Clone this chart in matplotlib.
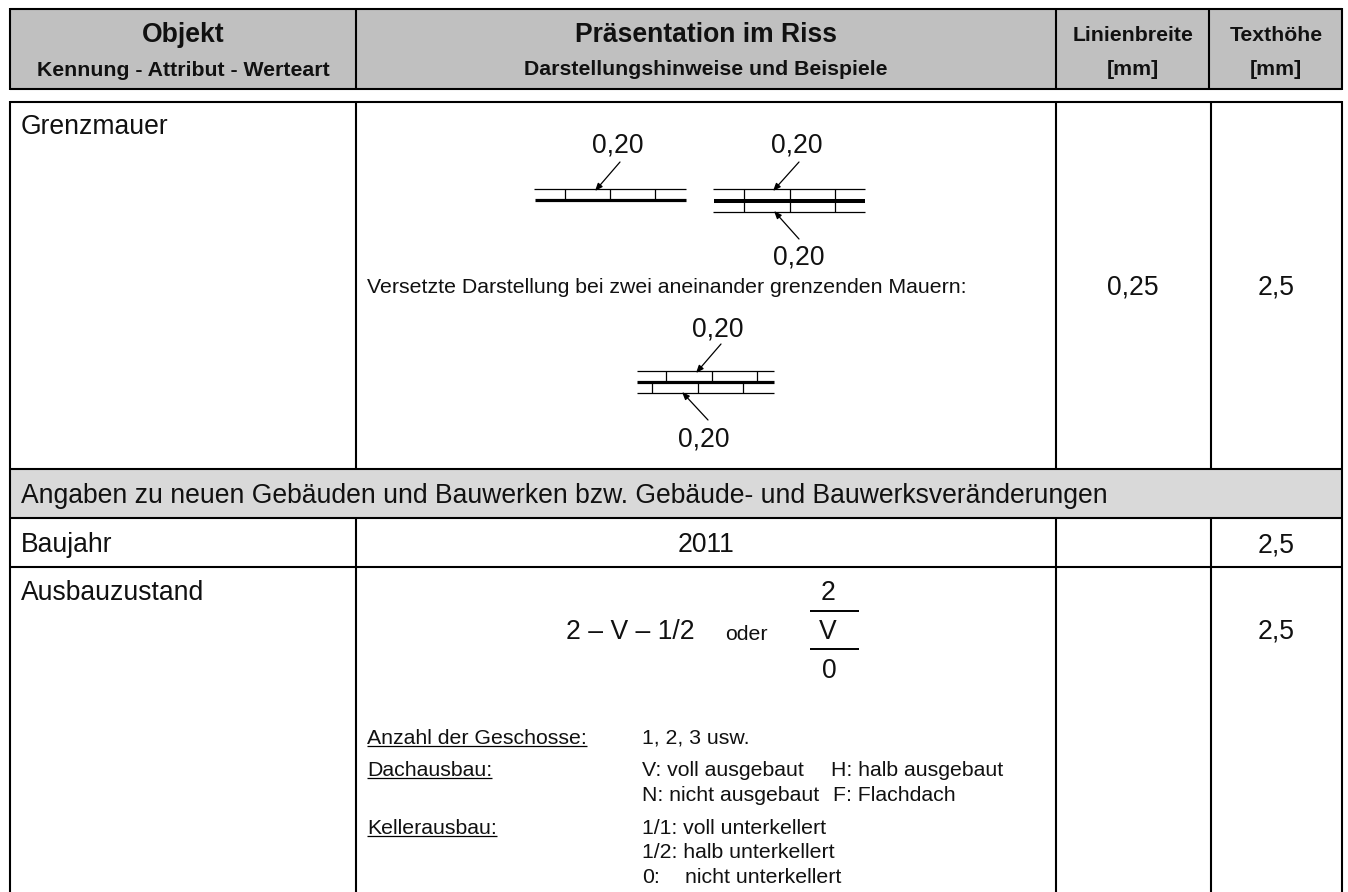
import matplotlib
matplotlib.use("Agg")
import matplotlib.pyplot as plt
from matplotlib.patches import Rectangle

plt.rcParams['font.family'] = ['Liberation Sans', 'DejaVu Sans']

W, H = 1348, 892
left_x, right_x = 10, 1342
header_cols = [356, 1056, 1209]
body_cols = [356, 1056, 1211]
header_top, header_bot = 9, 89
body_top = 102
row_edges = [102, 469, 518, 567]

header_main = ["Objekt", "Präsentation im Riss"]
header_sub = ["Kennung - Attribut - Werteart", "Darstellungshinweise und Beispiele"]
header_small = [["Linienbreite", "[mm]"], ["Texthöhe", "[mm]"]]
section_title = "Angaben zu neuen Gebäuden und Bauwerken bzw. Gebäude- und Bauwerksveränderungen"
row_names = ["Grenzmauer", "Baujahr", "Ausbauzustand"]
line_width_value = "0,25"
text_height_value = "2,5"
dim_label = "0,20"
offset_note = "Versetzte Darstellung bei zwei aneinander grenzenden Mauern:"
year = "2011"
formula = "2 – V – 1/2"
oder = "oder"
fraction = ["2", "V", "0"]
legend_left = ["Anzahl der Geschosse:", "Dachausbau:", "Kellerausbau:"]
legend_left_y = [744, 776, 834]
legend_a = ["1, 2, 3 usw.", "V: voll ausgebaut", "N: nicht ausgebaut", "1/1: voll unterkellert",
            "1/2: halb unterkellert", "0:"]
legend_a_y = [744, 776, 801, 834, 858, 883]
legend_b = ["H: halb ausgebaut", "F: Flachdach", "nicht unterkellert"]
legend_b_x = [831, 833, 685]
legend_b_y = [776, 801, 883]

fig = plt.figure(figsize=(W / 100, H / 100), dpi=100)
ax = fig.add_axes([0, 0, 1, 1])
ax.set_xlim(0, W)
ax.set_ylim(H, 0)
ax.axis('off')

GREY = '#c0c0c0'
BLK = '#000000'
LW = 1.5
BIG = 19.1
MID = 15.3
HEAD = 19.1
SUB = 15.3


def line(x0, y0, x1, y1, lw=LW, color=BLK):
    ax.plot([x0, x1], [y0, y1], color=color, lw=lw, solid_capstyle='butt', zorder=3)


def txt(x, y, s, size=BIG, ha='center', weight='normal'):
    return ax.text(x, y, s, fontsize=size, ha=ha, va='baseline', weight=weight, color='#111111', zorder=4)


# header
ax.add_patch(Rectangle((left_x, header_top), right_x - left_x, header_bot - header_top,
                       fc=GREY, ec='none', zorder=1))
line(left_x, header_top, right_x, header_top)
line(left_x, header_bot, right_x, header_bot)
for x in [left_x, *header_cols, right_x]:
    line(x, header_top - 1, x, header_bot + 1)

# section band
ax.add_patch(Rectangle((left_x, row_edges[1]), right_x - left_x, row_edges[2] - row_edges[1],
                       fc='#d9d9d9', ec='none', zorder=1))
# body grid
for y in row_edges:
    line(left_x, y, right_x, y)
for x in (left_x, right_x):
    line(x, body_top - 1, x, H)
for x in body_cols:
    line(x, body_top, x, row_edges[1])
    line(x, row_edges[2], x, H)

# header text
txt(183, 42, header_main[0], HEAD, weight='bold')
txt(183, 76, header_sub[0], SUB, weight='bold')
txt(706, 42, header_main[1], HEAD, weight='bold')
txt(706, 75, header_sub[1], SUB, weight='bold')
txt(1133, 41, header_small[0][0], SUB, weight='bold')
txt(1133, 75, header_small[0][1], SUB, weight='bold')
txt(1276, 41, header_small[1][0], SUB, weight='bold')
txt(1276, 75, header_small[1][1], SUB, weight='bold')

# row names
txt(21, 134, row_names[0], ha='left')
txt(21, 552, row_names[1], ha='left')
txt(21, 600, row_names[2], ha='left')
txt(21, 503, section_title, ha='left')

# value columns
txt(1133, 295, line_width_value)
txt(1276, 295, text_height_value)
txt(1276, 552, text_height_value)
txt(1276, 639, text_height_value)
txt(706, 552, year)


def wall(x0, x1, y0, y1, ticks, lw=0.9):
    line(x0, y0, x1, y0, lw)
    for t in ticks:
        line(t, y0, t, y1, lw)


def arrow(x0, y0, x1, y1):
    ax.annotate('', xy=(x1, y1), xytext=(x0, y0),
                arrowprops=dict(arrowstyle='-|>,head_length=0.45,head_width=0.18', lw=0.9, color=BLK,
                                shrinkA=0, shrinkB=0), zorder=4)


# Wall sketch 1
wall(534, 686, 189, 200, [565, 610, 655])
line(535, 200, 686, 200, 2.3)
txt(618, 153, dim_label)
arrow(620, 162, 595, 191)
# Wall sketch 2
wall(713, 865, 189, 212, [744, 790, 835])
line(713, 212, 865, 212, 0.9)
line(714, 201, 865, 201, 2.9)
txt(797, 153, dim_label)
arrow(799, 162, 773, 191)
arrow(799, 239, 774, 211)
txt(799, 265, dim_label)
txt(367, 293, offset_note, MID, ha='left')
# Wall sketch 3
wall(637, 774, 371, 382, [666, 712, 757])
wall(637, 774, 393, 382, [652, 698, 743])
line(637, 382, 774, 382, 2.3)
txt(718, 337, dim_label)
arrow(721, 344, 696, 373)
arrow(708, 420, 682, 392)
txt(704, 446, dim_label)

# Ausbauzustand formula
txt(566, 639, formula, ha='left')
txt(746, 640, oder, MID)
txt(828, 600, fraction[0])
txt(828, 639, fraction[1])
txt(829, 678, fraction[2])
line(810, 611, 859, 611, 1.4)
line(810, 649, 859, 649, 1.4)

# Legend block
fig.canvas.draw()
renderer = fig.canvas.get_renderer()
for s, y in zip(legend_left, legend_left_y):
    t = txt(367, y, s, MID, ha='left')
    bb = t.get_window_extent(renderer)
    line(367, y + 2, 367 + bb.width, y + 2, 0.9)
for s, y in zip(legend_a, legend_a_y):
    txt(642, y, s, MID, ha='left')
for s, x, y in zip(legend_b, legend_b_x, legend_b_y):
    txt(x, y, s, MID, ha='left')

fig.savefig('out.png', dpi=100, facecolor='white')
